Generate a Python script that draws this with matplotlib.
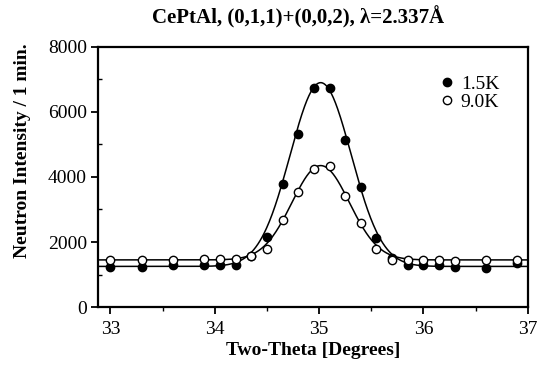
import numpy as np
import matplotlib.pyplot as plt
from matplotlib.ticker import MultipleLocator

# data
two_theta_lo = [33.0, 33.3, 33.6, 33.9, 34.05, 34.2, 34.35, 34.5, 34.65, 34.8, 34.95,
                35.1, 35.25, 35.4, 35.55, 35.7, 35.85, 36.0, 36.15, 36.3, 36.6, 36.9]
i_15K = [1240, 1240, 1290, 1290, 1290, 1290, 1580, 2140, 3785, 5310, 6750,
         6730, 5140, 3700, 2110, 1500, 1290, 1290, 1290, 1240, 1190, 1340]
i_90K = [1450, 1460, 1450, 1480, 1480, 1480, 1560, 1800, 2680, 3530, 4260,
         4340, 3415, 2590, 1800, 1450, 1450, 1450, 1460, 1430, 1450, 1450]

# gaussian fit parameters (background, amplitude, centre, sigma)
fit_15K = (1250, 5650, 35.015, 0.293)
fit_90K = (1450, 2900, 35.015, 0.276)

labels = ["1.5K", "9.0K"]


def gauss(x, p):
    bg, amp, x0, s = p
    return bg + amp * np.exp(-0.5 * ((x - x0) / s) ** 2)


plt.rcParams['font.family'] = ['Liberation Serif', 'DejaVu Serif']

fig = plt.figure(figsize=(5.38, 3.66), dpi=100)
ax = fig.add_axes([0.182, 0.161, 0.799, 0.711])

xx = np.linspace(32.88, 37.0, 600)
ax.plot(xx, gauss(xx, fit_15K), color='black', lw=1.1, zorder=2)
ax.plot(xx, gauss(xx, fit_90K), color='black', lw=1.1, zorder=2)
ax.plot(two_theta_lo, i_15K, 'o', color='black', ms=6, label=labels[0], zorder=3)
ax.plot(two_theta_lo, i_90K, 'o', mfc='white', mec='black', mew=1.0, ms=6,
        label=labels[1], zorder=3)

ax.set_xlim(32.88, 37.0)
ax.set_ylim(0, 8000)
ax.xaxis.set_major_locator(MultipleLocator(1))
ax.xaxis.set_minor_locator(MultipleLocator(0.5))
ax.yaxis.set_major_locator(MultipleLocator(2000))
ax.yaxis.set_minor_locator(MultipleLocator(1000))
ax.tick_params(which='major', direction='out', length=5, width=1.3, labelsize=14)
ax.tick_params(axis='x', which='major', pad=5)
ax.tick_params(axis='y', which='major', pad=3)
ax.tick_params(axis='x', which='minor', direction='out', length=3, width=1.0)
ax.tick_params(axis='y', which='minor', direction='in', length=3, width=1.0)
for sp in ax.spines.values():
    sp.set_linewidth(1.6)

ax.set_title("CePtAl, (0,1,1)+(0,0,2), λ=2.337Å", fontsize=15, fontweight='bold',
             x=0.465, y=1.0, pad=17)
ax.set_xlabel("Two-Theta [Degrees]", fontsize=14, fontweight='bold', labelpad=3)
ax.set_ylabel("Neutron Intensity / 1 min.", fontsize=14, fontweight='bold')
ax.yaxis.set_label_coords(-0.155, 0.6)

leg = ax.legend(loc='upper left', frameon=False, fontsize=14, handletextpad=0.2,
                borderaxespad=0.0, labelspacing=0.0, handlelength=1.0,
                bbox_to_anchor=(0.79, 0.89), borderpad=0.0)

fig.savefig("out.png", dpi=100)
